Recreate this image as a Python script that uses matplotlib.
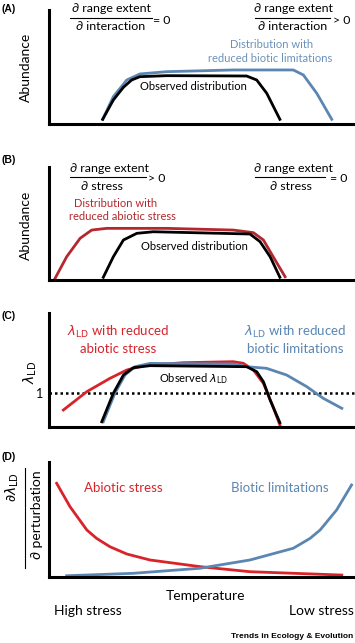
import matplotlib
matplotlib.use('Agg')
import matplotlib.pyplot as plt
from matplotlib.lines import Line2D

plt.rcParams['font.family'] = ['Lato', 'DejaVu Sans']
plt.rcParams['mathtext.fontset'] = 'dejavusans'

# colours
BLUE = '#5b86b2'
RED = '#d8232b'
DRED = '#b3282e'

# ---- data (x = temperature 0-100, y = response 0-100) ----
# (A) abundance
a_obs_x = [17.6, 21.1, 24.4, 27.1, 29.8, 38.6, 64.8, 68.1, 71.4, 75.7]
a_obs_y = [4.1, 21.1, 32.2, 38.6, 41.5, 42.4, 42.1, 38.6, 26.9, 4.1]
a_bio_x = [17.6, 21.1, 25.5, 29.8, 38.6, 60.4, 80.1, 83.4, 87.8, 92.7]
a_bio_y = [4.1, 24.0, 38.6, 43.9, 45.9, 47.4, 47.4, 43.0, 26.9, 4.1]

# (B) abundance
b_abio_x = [2.0, 5.8, 10.2, 14.0, 18.9, 38.6, 60.4, 67.0, 70.3, 73.5, 77.4]
b_abio_y = [1.5, 20.6, 36.9, 44.2, 45.7, 45.7, 44.2, 41.9, 35.4, 20.6, 2.9]
b_obs_x = [17.8, 21.1, 24.4, 28.8, 34.2, 65.9, 69.2, 72.5, 75.7]
b_obs_y = [2.4, 20.6, 35.4, 41.3, 42.7, 40.7, 33.9, 20.6, 2.4]

# (C) lambda_LD
c_one = 29.8
c_abio_x = [4.7, 12.4, 20.0, 25.5, 30.9, 44.0, 60.4, 63.7, 67.0, 70.3, 73.0, 75.7]
c_abio_y = [14.9, 31.0, 42.7, 50.0, 53.8, 56.4, 57.3, 55.9, 50.0, 38.3, 20.8, 1.8]
c_bio_x = [17.8, 21.6, 24.9, 28.2, 33.1, 60.4, 64.8, 71.3, 77.9, 84.5, 89.9, 96.0]
c_bio_y = [4.6, 29.6, 45.6, 52.9, 55.8, 55.3, 52.9, 51.5, 45.6, 35.4, 25.2, 16.4]
c_obs_x = [17.3, 21.1, 24.4, 27.6, 33.1, 64.8, 68.1, 70.3, 72.5, 75.7]
c_obs_y = [4.6, 29.6, 45.6, 52.0, 53.8, 52.9, 48.5, 39.7, 23.7, 3.8]

# (D) sensitivity
d_abio_x = [2.5, 6.9, 12.4, 15.6, 20.0, 25.5, 33.1, 49.5, 65.9, 96.0]
d_abio_y = [81.5, 61.1, 40.9, 33.6, 26.3, 20.0, 14.8, 9.0, 4.6, 1.7]
d_bio_x = [5.8, 27.6, 49.5, 65.9, 80.1, 85.6, 88.9, 94.3, 99.2]
d_bio_y = [1.1, 3.2, 7.6, 14.8, 25.0, 33.6, 40.9, 58.3, 80.0]

W, H = 355, 643
fig = plt.figure(figsize=(W / 100, H / 100), dpi=100)


def fx(px):
    return px / W


def fy(py):
    return 1 - py / H


def panel(top, bottom):
    ax = fig.add_axes([fx(49), fy(bottom), fx(354) - fx(49), (bottom - top) / H])
    ax.set_xlim(0, 100)
    ax.set_ylim(0, 100)
    for s in ['top', 'right']:
        ax.spines[s].set_visible(False)
    for s in ['left', 'bottom']:
        ax.spines[s].set_linewidth(2.2)
        ax.spines[s].set_color('black')
    ax.set_xticks([])
    ax.set_yticks([])
    ax.patch.set_alpha(0)
    return ax


def txt(px, py, s, **kw):
    kw.setdefault('ha', 'center')
    kw.setdefault('va', 'center')
    kw.setdefault('fontsize', 8)
    fig.text(fx(px), fy(py), s, **kw)


def frac(num_x, den_x, py, num, den, rel, x0, x1, relx):
    txt(num_x, py - 9, num, fontsize=8.9)
    txt(den_x, py + 9, den, fontsize=8.9)
    fig.add_artist(Line2D([fx(x0), fx(x1)], [fy(py), fy(py)], color='black', lw=0.8))
    txt(relx, py + 2, rel, fontsize=8.9, ha='left')


def plabel(py, s):
    txt(1, py, s, fontsize=7.5, fontweight='bold', ha='left',
        family=['Liberation Sans', 'DejaVu Sans'])


LW = 2.0

# (A)
ax = panel(10, 124)
ax.plot(a_bio_x, a_bio_y, color=BLUE, lw=LW, clip_on=False)
ax.plot(a_obs_x, a_obs_y, color='black', lw=LW, clip_on=False)
plabel(9, '(A)')
txt(26, 67, 'Abundance', fontsize=10, rotation=90)
frac(111, 111, 18, '\u2202 range extent', '\u2202 interaction', '= 0', 70, 152, 153)
frac(293, 293, 18, '\u2202 range extent', '\u2202 interaction', '> 0', 255, 330, 333)
txt(272, 44, 'Distribution with', color='#6b92bb')
txt(270, 58, 'reduced biotic limitations', color='#6b92bb')
txt(193, 87, 'Observed distribution')

# (B)
ax = panel(167, 280)
ax.plot(b_abio_x, b_abio_y, color=DRED, lw=LW, clip_on=False)
ax.plot(b_obs_x, b_obs_y, color='black', lw=LW, clip_on=False)
plabel(160, '(B)')
txt(26, 225, 'Abundance', fontsize=10, rotation=90)
frac(110, 102, 177, '\u2202 range extent', '\u2202 stress', '> 0', 70, 146, 148)
frac(293, 291, 177, '\u2202 range extent', '\u2202 stress', '= 0', 255, 325, 330)
txt(116, 203, 'Distribution with', color=DRED)
txt(122, 217, 'reduced abiotic stress', color=DRED)
txt(194, 246, 'Observed distribution')

# (C)
ax = panel(313, 427)
ax.axhline(c_one, color='black', lw=1.8, ls=(0, (1, 1.2)), clip_on=False)
ax.plot(c_abio_x, c_abio_y, color=RED, lw=LW, clip_on=False)
ax.plot(c_bio_x, c_bio_y, color=BLUE, lw=LW, clip_on=False)
ax.plot(c_obs_x, c_obs_y, color='black', lw=LW, clip_on=False)
plabel(316, '(C)')
txt(30, 372, r'$\lambda_{\mathrm{LD}}$', fontsize=10, rotation=90)
txt(40, 394, '1', fontsize=9)
txt(118, 332, r'$\lambda_{\mathrm{LD}}$ with reduced', color=RED, fontsize=9.5)
txt(118, 349, 'abiotic stress', color=RED, fontsize=9.5)
txt(295, 332, r'$\lambda_{\mathrm{LD}}$ with reduced', color=BLUE, fontsize=9.5)
txt(295, 349, 'biotic limitations', color=BLUE, fontsize=9.5)
txt(193, 379, r'Observed $\lambda_{\mathrm{LD}}$')

# (D)
ax = panel(462, 577)
ax.plot(d_abio_x, d_abio_y, color=RED, lw=LW, clip_on=False)
ax.plot(d_bio_x, d_bio_y, color=BLUE, lw=LW, clip_on=False)
plabel(457, '(D)')
txt(12, 487, r'$\partial\lambda_{\mathrm{LD}}$', fontsize=10, rotation=90)
fig.add_artist(Line2D([fx(25), fx(25)], [fy(468), fy(568)], color='black', lw=0.8))
txt(37, 515, '\u2202 perturbation', fontsize=10, rotation=90)
txt(123, 488, 'Abiotic stress', color=RED, fontsize=9.5)
txt(280, 488, 'Biotic limitations', color=BLUE, fontsize=9.5)

txt(205, 596, 'Temperature', fontsize=10)
txt(88, 611, 'High stress', fontsize=10)
txt(354, 611, 'Low stress', fontsize=10, ha='right')
txt(353, 637, 'Trends in Ecology & Evolution', fontsize=6.0, ha='right',
    fontweight='bold', family=['Liberation Sans', 'DejaVu Sans'])

fig.savefig('out.png', dpi=100)
